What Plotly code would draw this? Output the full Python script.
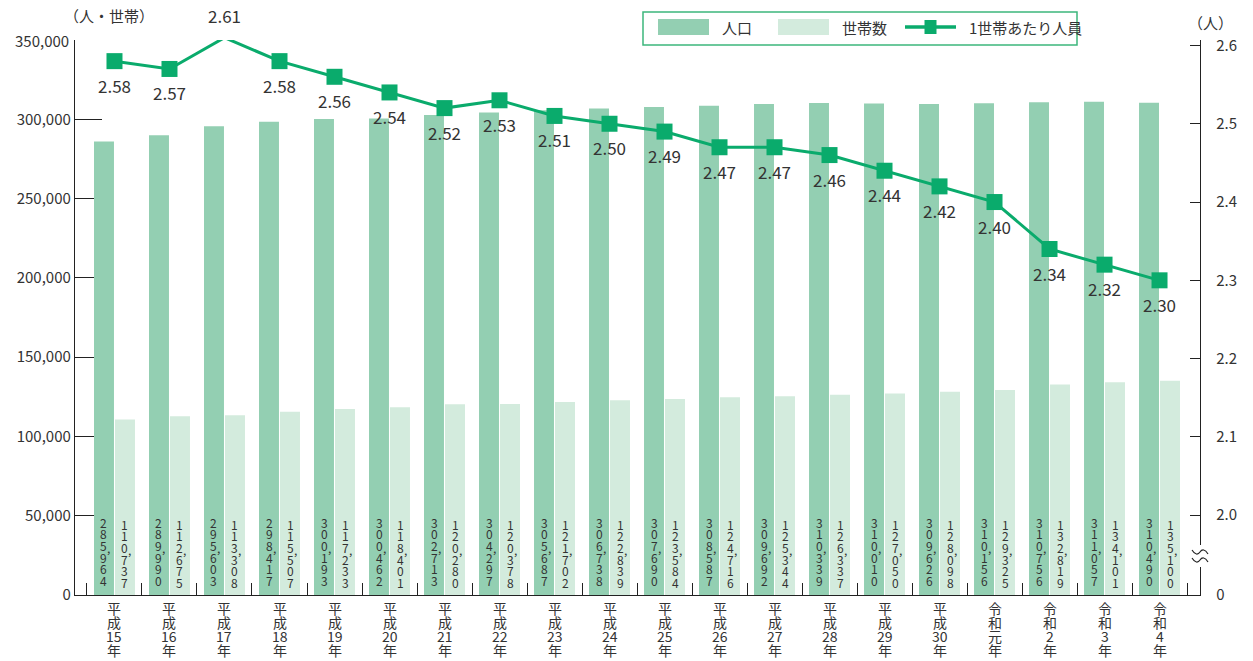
import plotly.graph_objects as go

# ---------------- data ----------------
categories = ["平成15年", "平成16年", "平成17年", "平成18年", "平成19年", "平成20年",
              "平成21年", "平成22年", "平成23年", "平成24年", "平成25年", "平成26年",
              "平成27年", "平成28年", "平成29年", "平成30年", "令和元年", "令和2年",
              "令和3年", "令和4年"]
population = [285964, 289990, 295603, 298417, 300193, 300462, 302713, 304297, 305687, 306738,
              307690, 308587, 309692, 310339, 310010, 309626, 310156, 310756, 311057, 310490]
households = [110737, 112675, 113308, 115507, 117233, 118401, 120280, 120378, 121702, 122839,
              123584, 124716, 125344, 126337, 127050, 128098, 129325, 132819, 134101, 135100]
per_household = [2.58, 2.57, 2.61, 2.58, 2.56, 2.54, 2.52, 2.53, 2.51, 2.50,
                 2.49, 2.47, 2.47, 2.46, 2.44, 2.42, 2.40, 2.34, 2.32, 2.30]
left_tick_vals = [0, 50000, 100000, 150000, 200000, 250000, 300000, 350000]
right_tick_vals = [2.0, 2.1, 2.2, 2.3, 2.4, 2.5, 2.6]
series_names = ["人口", "世帯数", "1世帯あたり人員"]
left_title = "（人・世帯）"
right_title = "（人）"

# ---------------- style ----------------
POP = "#93cfb2"
HH = "#d3ebdd"
LINE = "#0aab6c"
TXT = "#333333"
AX = "#222222"
FONT = "Noto Sans CJK JP"

W, H = 1253, 661
ML, MR, MT, MB = 75, 53, 40, 66
PW, PH = W - ML - MR, H - MT - MB
R2_MIN, R2_MAX = 1.898, 2.607
PX_PER_UNIT2 = PH / (R2_MAX - R2_MIN)


def px_x(px):
    return (px - ML) / PW


def px_y(py):
    return (H - MB - py) / PH


fig = go.Figure()
fig.add_trace(go.Bar(x=categories, y=population, name=series_names[0],
                     marker=dict(color=POP, line=dict(width=0))))
fig.add_trace(go.Bar(x=categories, y=households, name=series_names[1],
                     marker=dict(color=HH, line=dict(width=0))))
fig.add_trace(go.Scatter(x=categories, y=per_household, name=series_names[2], yaxis="y2",
                         mode="lines+markers", line=dict(color=LINE, width=3),
                         marker=dict(symbol="square", size=16, color=LINE),
                         cliponaxis=False))

ann = []

# vertical stacked value labels inside bars
PITCH = 11.7


def stacked_label(cat, value, xs, base):
    s = f"{value:,}"
    digits = s.replace(",", "")
    n = len(digits)
    comma_after = [i - 1 - s[:i].count(",") for i, ch in enumerate(s) if ch == ","]
    for k, d in enumerate(digits):
        ys = base + PITCH * (n - 1 - k)
        ann.append(dict(x=cat, y=0, xref="x", yref="y", text=d, showarrow=False,
                        xshift=xs, yshift=ys, yanchor="middle", xanchor="center",
                        borderpad=0,
                        font=dict(family=FONT, size=12, color=TXT)))
        if k in comma_after:
            ann.append(dict(x=cat, y=0, xref="x", yref="y", text=",", showarrow=False,
                            xshift=xs + 5, yshift=ys - 2, yanchor="middle", xanchor="center",
                            borderpad=0,
                            font=dict(family=FONT, size=12, color=TXT)))


for c, p, h in zip(categories, population, households):
    stacked_label(c, p, -10.5, 14.5)
    stacked_label(c, h, 10.5, 12.5)

# category labels (stacked)
for c in categories:
    parts = [c[0], c[1], c[2:-1], c[-1]]
    for k, part in enumerate(parts):
        ann.append(dict(x=c, y=0, xref="x", yref="paper", text=part, showarrow=False,
                        yanchor="middle", xanchor="center", yshift=-(13 + 14 * k),
                        borderpad=0,
                        font=dict(family=FONT, size=14, color=TXT)))

# line value labels
for i, (c, v) in enumerate(zip(categories, per_household)):
    above = v == max(per_household)
    anchor = min(v, R2_MAX - 0.02)
    lift = (v - anchor) * PX_PER_UNIT2
    ann.append(dict(x=c, y=anchor, xref="x", yref="y2", text=f"{v:.2f}", showarrow=False,
                    yanchor="middle", xanchor="center",
                    yshift=(22 if above else -24) + lift,
                    font=dict(family=FONT, size=17, color=TXT)))

# axis titles
ann.append(dict(x=px_x(62), y=px_y(15), xref="paper", yref="paper", text=left_title,
                showarrow=False, xanchor="left", yanchor="middle",
                font=dict(family=FONT, size=15, color=TXT)))
ann.append(dict(x=px_x(1186), y=px_y(22), xref="paper", yref="paper", text=right_title,
                showarrow=False, xanchor="left", yanchor="middle",
                font=dict(family=FONT, size=15, color=TXT)))
# top left tick label without tick stub
ann.append(dict(x=0, y=left_tick_vals[-1], xref="paper", yref="y", text=f"{left_tick_vals[-1]:,}",
                showarrow=False, xanchor="right", yanchor="middle", xshift=-4,
                font=dict(family=FONT, size=15, color=TXT)))

# custom legend
shapes = []
shapes.append(dict(type="rect", xref="paper", yref="paper", x0=px_x(643), x1=px_x(1077),
                   y0=px_y(45), y1=px_y(12), line=dict(color="#3db67c", width=1.5),
                   fillcolor="white", layer="above"))
legend_items = [(658, POP, "bar"), (778, HH, "bar"), (905, LINE, "line")]
for (x0, col, kind), name in zip(legend_items, series_names):
    if kind == "bar":
        shapes.append(dict(type="rect", xref="paper", yref="paper", x0=px_x(x0), x1=px_x(x0 + 51),
                           y0=px_y(35), y1=px_y(19), line=dict(width=0), fillcolor=col,
                           layer="above"))
    else:
        shapes.append(dict(type="line", xref="paper", yref="paper", x0=px_x(x0), x1=px_x(x0 + 51),
                           y0=px_y(27), y1=px_y(27), line=dict(color=col, width=3.5), layer="above"))
        shapes.append(dict(type="rect", xref="paper", yref="paper", x0=px_x(x0 + 19.5),
                           x1=px_x(x0 + 31.5), y0=px_y(34), y1=px_y(20), line=dict(width=0),
                           fillcolor=col, layer="above"))
    ann.append(dict(x=px_x(x0 + 62), y=px_y(27), xref="paper", yref="paper", text=name,
                    showarrow=False, xanchor="left", yanchor="middle",
                    font=dict(family=FONT, size=15, color=TXT)))

# axis break on right axis
brk_y = px_y(556)
shapes.append(dict(type="path", xref="paper", yref="paper", xsizemode="pixel", ysizemode="pixel",
                   xanchor=1, yanchor=brk_y, path="M-5,-11 L5,-11 L5,11 L-5,11 Z",
                   fillcolor="white", line=dict(width=0), layer="above"))
for off in (4, -4):
    shapes.append(dict(type="path", xref="paper", yref="paper", xsizemode="pixel",
                       ysizemode="pixel", xanchor=1, yanchor=brk_y,
                       path=f"M-8,{off + 2} C-5,{off - 3} -2,{off - 3} 0,{off} "
                            f"C2,{off + 3} 5,{off + 3} 8,{off - 2}",
                       line=dict(color=AX, width=1.2), layer="above"))

fig.update_layout(
    width=W, height=H,
    margin=dict(l=ML, r=MR, t=MT, b=MB, pad=0, autoexpand=False),
    paper_bgcolor="white", plot_bgcolor="white",
    showlegend=False,
    barmode="group", bargap=0.236, bargroupgap=0.05,
    font=dict(family=FONT, size=15, color=TXT),
    xaxis=dict(type="category", range=[-0.718, 19.736], showline=True, linecolor=AX,
               linewidth=1.3, ticks="inside", tickson="boundaries", ticklen=12,
               tickcolor=AX, tickwidth=1.3, showticklabels=False, showgrid=False,
               zeroline=False),
    yaxis=dict(range=[0, 350000], showline=True, linecolor=AX, linewidth=1.3,
               ticks="inside", ticklen=27, tickcolor=AX, tickwidth=1.3,
               tickvals=left_tick_vals[:-1], ticktext=[f"{v:,}" for v in left_tick_vals[:-1]],
               tickfont=dict(family=FONT, size=15, color=TXT), showgrid=False,
               zeroline=False, layer="below traces"),
    yaxis2=dict(overlaying="y", side="right", anchor="x", range=[R2_MIN, R2_MAX],
                showline=True, linecolor=AX, linewidth=1.3, ticks="inside", ticklen=10,
                tickcolor=AX, tickwidth=1.3,
                tickvals=[R2_MIN] + right_tick_vals,
                ticktext=["0"] + [f"{v:.1f}" for v in right_tick_vals],
                tickfont=dict(family=FONT, size=15, color=TXT), ticklabelstandoff=12,
                showgrid=False, zeroline=False),
    annotations=ann,
    shapes=shapes,
)

fig.write_html("out.html", config={"displayModeBar": False},
               post_script="document.body.style.margin='0px';"
                           "document.body.style.overflow='hidden';")
